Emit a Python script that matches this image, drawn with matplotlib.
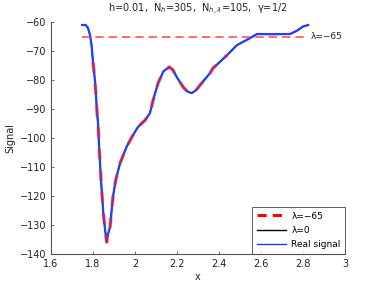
import matplotlib
matplotlib.use("Agg")
import matplotlib.pyplot as plt
import numpy as np

# Real signal
x_sig = [1.748, 1.765, 1.776, 1.786, 1.793, 1.800, 1.810, 1.819, 1.824, 1.829,
         1.838, 1.849, 1.858, 1.865, 1.872, 1.881, 1.895, 1.908, 1.929, 1.96,
         1.99, 2.014, 2.048, 2.071, 2.086, 2.11, 2.135, 2.163, 2.18, 2.199,
         2.229, 2.25, 2.27, 2.29, 2.318, 2.357, 2.371, 2.40, 2.438, 2.486,
         2.548, 2.581, 2.65, 2.738, 2.77, 2.80, 2.824]
y_sig = [-61, -61, -62, -64.5, -68, -73.8, -80.7, -91, -95, -103,
         -114.5, -125.9, -132, -135.9, -133, -130.7, -120.3, -114.5, -108.6, -103,
         -99, -96.2, -93.8, -91.4, -86.9, -81, -77, -75.5, -76.5, -79,
         -82.4, -84, -84.5, -83.5, -81, -77.6, -75.9, -74, -71.4, -67.9,
         -65.5, -64.1, -64.2, -64.1, -63, -61.5, -61]

lam = -65
lam_x_range = [1.748, 2.824]
fit_x_range = [1.80, 2.44]

title = "h=0.01,  N$_h$=305,  N$_{h,\\lambda}$=105,  γ=1/2"
xticks = [1.6, 1.8, 2.0, 2.2, 2.4, 2.6, 2.8, 3.0]
xticklabels = ["1.6", "1.8", "2", "2.2", "2.4", "2.6", "2.8", "3"]
yticks = [-140, -130, -120, -110, -100, -90, -80, -70, -60]

plt.rcParams['font.family'] = ['DejaVu Sans']
fig = plt.figure(figsize=(3.82, 2.87), dpi=100)
ax = fig.add_axes([0.1335, 0.115, 0.77, 0.808])

xs = np.array(x_sig)
ys = np.array(y_sig)
m = (xs >= fit_x_range[0]) & (xs <= fit_x_range[1])

ax.plot(xs, ys, color='black', lw=1.0, label='λ=0', zorder=2)
ax.plot(xs, ys, color='#1f3fff', lw=1.6, label='Real signal', zorder=3)
ax.plot(xs[m], ys[m], color='#ff2020', lw=2.6, ls=(0, (3, 3)), alpha=0.55,
        label='λ=−65', zorder=4)
ax.plot(lam_x_range, [lam, lam], color='#ff4040', lw=1.2, ls=(0, (5, 3)), alpha=0.9, zorder=5)
ax.text(lam_x_range[1] + 0.01, lam, "λ=−65", fontsize=6.5, va='center', ha='left', color='#222222')

ax.set_xlim(1.6, 3.0)
ax.set_ylim(-140, -60)
ax.set_xticks(xticks)
ax.set_xticklabels(xticklabels)
ax.set_yticks(yticks)
ax.set_yticklabels([str(v).replace('-', '−') for v in yticks])
ax.tick_params(direction='in', length=2.5, labelsize=7, colors='#555555', labelcolor='#222222', width=0.6)
for s in ['top', 'right']:
    ax.spines[s].set_visible(False)
for s in ['left', 'bottom']:
    ax.spines[s].set_color('#555555')
    ax.spines[s].set_linewidth(0.8)

ax.set_xlabel('x', fontsize=7, labelpad=2, color='#222222')
ax.set_ylabel('Signal', fontsize=7, labelpad=3, color='#222222')
ax.set_title(title, fontsize=7, pad=7, color='#222222')

handles, labels = ax.get_legend_handles_labels()
order = [2, 0, 1]
from matplotlib.lines import Line2D
h_leg = [Line2D([0], [0], color='#ff0000', lw=2.2, ls=(0, (3, 2))),
         Line2D([0], [0], color='black', lw=1.0),
         Line2D([0], [0], color='#1f3fff', lw=1.0)]
leg = ax.legend(h_leg, ['λ=−65', 'λ=0', 'Real signal'], loc='lower right', fontsize=6.5,
                frameon=True, fancybox=False, borderaxespad=0.0, handlelength=3.2,
                borderpad=0.5, labelspacing=0.6, handletextpad=0.6)
leg.get_frame().set_edgecolor('#333333')
leg.get_frame().set_linewidth(0.7)

fig.savefig('out.png', dpi=100)
